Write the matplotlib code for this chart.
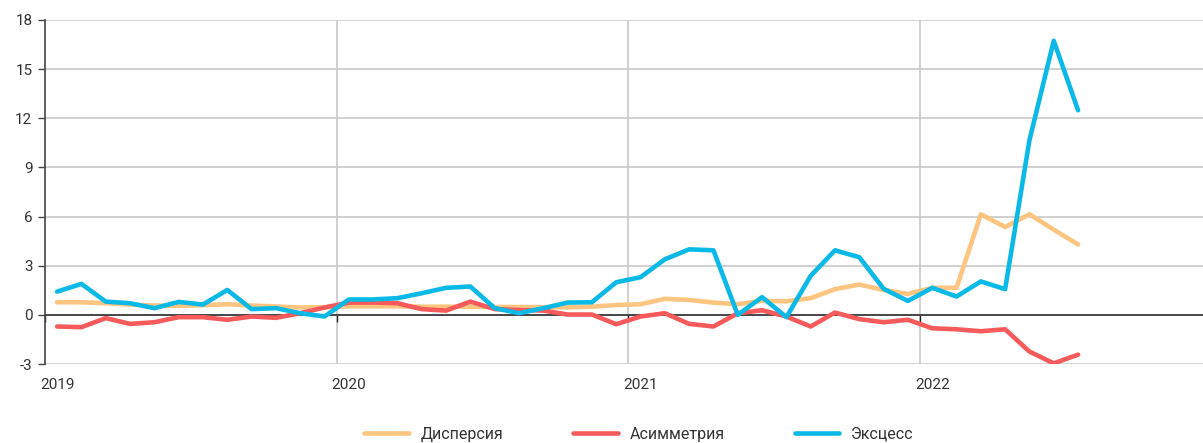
import numpy as np
import matplotlib.pyplot as plt

# monthly values, Jan 2019 - Jul 2022
dispersion = [0.77, 0.77, 0.71, 0.63, 0.57, 0.55, 0.59, 0.65, 0.57, 0.51, 0.45, 0.47,
              0.52, 0.52, 0.52, 0.50, 0.50, 0.50, 0.48, 0.48, 0.47, 0.46, 0.50, 0.60,
              0.65, 0.98, 0.91, 0.75, 0.65, 0.85, 0.83, 1.02, 1.57, 1.85, 1.52, 1.28,
              1.65, 1.65, 6.14, 5.36, 6.14, 5.20, 4.30]
asymmetry = [-0.71, -0.75, -0.20, -0.55, -0.45, -0.14, -0.14, -0.30, -0.10, -0.18, 0.10, 0.45,
             0.75, 0.75, 0.71, 0.35, 0.26, 0.81, 0.35, 0.30, 0.26, 0.02, 0.02, -0.57,
             -0.10, 0.10, -0.55, -0.71, 0.10, 0.28, -0.10, -0.71, 0.14, -0.26, -0.45, -0.30,
             -0.82, -0.88, -1.00, -0.88, -2.24, -2.96, -2.43]
excess = [1.42, 1.89, 0.81, 0.71, 0.41, 0.79, 0.63, 1.52, 0.35, 0.41, 0.10, -0.10,
          0.94, 0.94, 1.02, 1.32, 1.65, 1.73, 0.41, 0.10, 0.41, 0.75, 0.77, 1.99,
          2.30, 3.39, 4.00, 3.94, 0.00, 1.08, -0.14, 2.38, 3.94, 3.52, 1.59, 0.85,
          1.65, 1.12, 2.04, 1.57, 10.66, 16.73, 12.49]
years = [2019, 2020, 2021, 2022]
yticks = [-3, 0, 3, 6, 9, 12, 15, 18]

plt.rcParams['font.family'] = ['Roboto', 'DejaVu Sans']

x = 2019 + (np.arange(len(excess)) + 0.5) / 12

fig = plt.figure(figsize=(12.03, 4.43), dpi=100)
ax = fig.add_axes([0.0374, 0.1783, 0.9626, 0.7766])

ax.plot(x, dispersion, color='#FDC580', lw=3.3, label='Дисперсия', solid_capstyle='round')
ax.plot(x, asymmetry, color='#F65A5A', lw=3.3, label='Асимметрия', solid_capstyle='round')
ax.plot(x, excess, color='#0AB9E6', lw=3.3, label='Эксцесс', solid_capstyle='round')

ax.set_xlim(2019, 2022.97)
ax.set_ylim(-3, 18)
ax.set_yticks(yticks)
ax.set_yticklabels([str(v) for v in yticks])
ax.grid(axis='y', color='#c8c8c8', lw=1.2)
ax.set_axisbelow(True)
for yr in years[1:]:
    ax.axvline(yr, color='#c8c8c8', lw=1.2, zorder=0)
ax.axhline(0, color='#222222', lw=1.1, zorder=1)

# year labels sit under January of each year
ax.set_xticks(years)
ax.set_xticklabels([])
ax.tick_params(axis='x', length=0)
ax.set_xticks([y + 0.5 / 12 for y in years], minor=True)
ax.set_xticklabels([str(y) for y in years], minor=True)
ax.tick_params(axis='x', which='minor', length=0, pad=10, labelsize=11, labelcolor='#333333')

# small ticks on the zero line
sec = ax.secondary_xaxis(0, transform=ax.transData)
sec.set_xticks(years)
sec.set_xticklabels([])
sec.tick_params(length=5, width=1, color='#222222')
sec.spines['bottom'].set_visible(False)

ax.tick_params(axis='y', length=5, width=1, color='#444444', labelsize=11, labelcolor='#333333', pad=4)
for side in ['top', 'right', 'bottom']:
    ax.spines[side].set_visible(False)
ax.spines['left'].set_color('#444444')
ax.spines['left'].set_linewidth(1.2)

fig.legend(loc='lower center', bbox_to_anchor=(0.531, -0.03), ncol=3, frameon=False,
           fontsize=11.5, handlelength=2.8, columnspacing=4.4, handletextpad=0.7,
           labelcolor='#333333')

fig.savefig('out.png', dpi=100)
